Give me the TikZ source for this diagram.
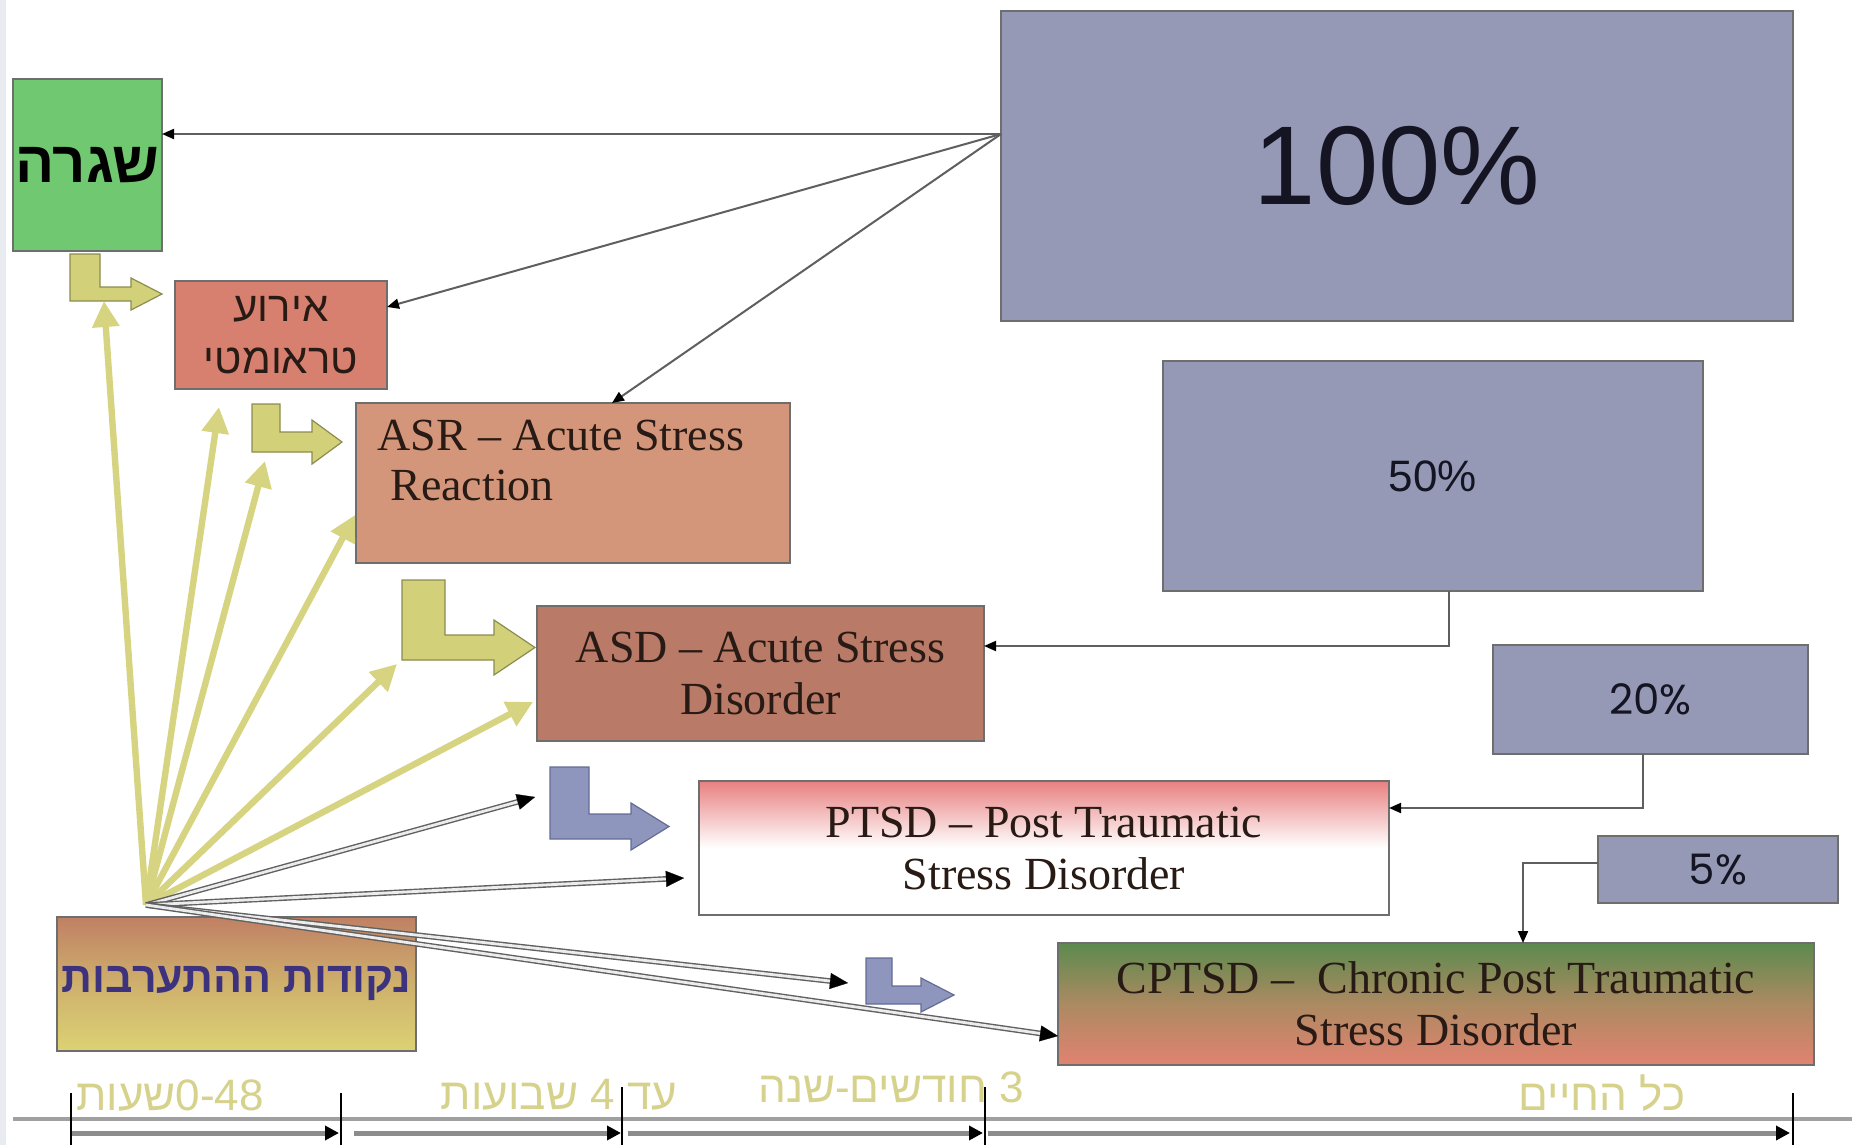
\documentclass[tikz,border=0pt]{standalone}
\usepackage{fontspec}
\setmainfont{Liberation Serif}
\newfontfamily\heb[Script=Hebrew]{Liberation Sans}
\newfontfamily\arialf{Liberation Sans}
\newfontfamily\geof{Poppins}
\TeXXeTstate=1
\usetikzlibrary{arrows.meta,calc}

\definecolor{shigragreen}{RGB}{112,200,112}
\definecolor{eventred}{RGB}{216,128,112}
\definecolor{asrfill}{RGB}{212,150,122}
\definecolor{asdfill}{RGB}{185,122,104}
\definecolor{pinktop}{RGB}{232,128,128}
\definecolor{cgreen}{RGB}{92,138,78}
\definecolor{cmid}{RGB}{172,138,98}
\definecolor{csalmon}{RGB}{226,130,112}
\definecolor{nbrown}{RGB}{192,128,100}
\definecolor{nmid}{RGB}{206,176,108}
\definecolor{nyellow}{RGB}{220,210,116}
\definecolor{pctfill}{RGB}{149,153,181}
\definecolor{boxline}{RGB}{110,110,110}
\definecolor{yarrow}{RGB}{214,212,128}
\definecolor{ybent}{RGB}{210,208,120}
\definecolor{ybentline}{RGB}{140,140,80}
\definecolor{bbent}{RGB}{142,150,190}
\definecolor{bbentline}{RGB}{100,108,150}
\definecolor{conngray}{RGB}{95,95,95}
\definecolor{textdark}{RGB}{40,26,20}
\definecolor{nektext}{RGB}{60,50,125}
\definecolor{timetext}{RGB}{214,210,140}
\definecolor{timegray}{RGB}{160,160,160}
\definecolor{tlarrow}{RGB}{140,140,140}
\definecolor{leftband}{RGB}{232,236,240}
\definecolor{pcttext}{RGB}{20,20,35}

\begin{document}
\begin{tikzpicture}[x=0.5pt,y=-0.5pt,
  box/.style={draw=boxline, line width=0.75pt, inner sep=0pt, outer sep=0pt, anchor=north west},
  serifbig/.style={font=\fontsize{23}{26}\selectfont, text=textdark},
  conn/.style={draw=conngray, line width=1pt, -{Triangle[length=6pt,width=5pt,color=black]}},
  yarr/.style={draw=yarrow, line width=3.2pt, -{Triangle[length=13pt,width=13pt]}},
  dbl/.style={draw=gray!75!black, line width=0.7pt, double=white!85!gray, double distance=1.4pt, shorten >=7pt},
  dbltip/.style={-{Triangle[length=9pt,width=8pt,color=black]}, draw=black, line width=0.1pt},
  ybentstyle/.style={fill=ybent, draw=ybentline, line width=0.6pt},
  bbentstyle/.style={fill=bbent, draw=bbentline, line width=0.6pt},
  tlabel/.style={font=\heb\fontsize{22}{26}\selectfont, text=timetext, inner sep=0pt},
  tlarr/.style={draw=tlarrow, line width=2.5pt, -{Triangle[length=7pt,width=7pt,color=black]}},
  tick/.style={draw=black, line width=0.6pt}
]
\useasboundingbox (0,0) rectangle (1852,1145);
\fill[white] (0,0) rectangle (1852,1145);
\fill[leftband] (0,0) rectangle (6,1145);

% boxes
\node[box, fill=shigragreen, minimum width=74.5pt, minimum height=86pt,
  font=\heb\bfseries\fontsize{29}{34}\selectfont] (shigra) at (13,79) {\beginR שגרה\endR};
\node[box, fill=eventred, minimum width=106pt, minimum height=54pt, align=center,
  font=\heb\fontsize{21}{26}\selectfont, text=textdark] (event) at (175,281)
  {\beginR אירוע\endR\\\beginR טראומטי\endR};
\node[box, fill=asrfill, minimum width=217pt, minimum height=80pt] (asr) at (356,403) {};
\node[serifbig, anchor=west, inner sep=0pt] (asrl1) at (377,435) {ASR – Acute Stress};
\node[serifbig, anchor=west, inner sep=0pt] (asrl2) at (390,485) {Reaction};
\node[box, fill=asdfill, minimum width=223.5pt, minimum height=67.5pt, align=center, serifbig] (asd) at (537,606)
  {ASD – Acute Stress\\Disorder};
\node[box, top color=pinktop, bottom color=white, middle color=white, minimum width=345pt, minimum height=67pt,
  align=center, serifbig] (ptsd) at (699,781) {PTSD – Post Traumatic\\Stress Disorder};
\node[box, top color=cgreen, bottom color=csalmon, middle color=cmid, minimum width=378pt, minimum height=61pt,
  align=center, serifbig] (cptsd) at (1058,943) {CPTSD –\ \ Chronic Post Traumatic\\Stress Disorder};
\node[box, top color=nbrown, bottom color=nyellow, middle color=nmid, minimum width=179.5pt, minimum height=67pt,
  font=\heb\bfseries\fontsize{21.5}{26}\selectfont, text=nektext] (nekudot) at (57,917) {\beginR נקודות ההתערבות\endR};

\node[box, fill=pctfill, minimum width=396pt, minimum height=155pt,
  font=\arialf\fontsize{56}{60}\selectfont, text=pcttext] (p100) at (1001,11) {100\%};
\node[box, fill=pctfill, minimum width=270pt, minimum height=115pt,
  font=\arialf\fontsize{22}{26}\selectfont, text=pcttext] (p50) at (1163,361) {50\%};
\node[box, fill=pctfill, minimum width=157.5pt, minimum height=54.5pt,
  font=\geof\fontsize{21}{25}\selectfont, text=pcttext] (p20) at (1493,645) {20\%};
\node[box, fill=pctfill, minimum width=120pt, minimum height=33.5pt,
  font=\geof\fontsize{21}{25}\selectfont, text=pcttext] (p5) at (1598,836) {5\%};

% bent arrows
\draw[ybentstyle] (70,254) -- (100,254) -- (100,287) -- (131,287) -- (131,278) -- (162,294) -- (131,310) -- (131,301) -- (70,301) -- cycle;
\draw[ybentstyle] (252,404) -- (280,404) -- (280,432) -- (312,432) -- (312,420) -- (342,442) -- (312,464) -- (312,452) -- (252,452) -- cycle;
\draw[ybentstyle] (402,580) -- (445,580) -- (445,635) -- (494,635) -- (494,620) -- (535,647.5) -- (494,675) -- (494,660) -- (402,660) -- cycle;
\draw[bbentstyle] (550,767) -- (589,767) -- (589,814) -- (631,814) -- (631,803) -- (669,826.5) -- (631,850) -- (631,839) -- (550,839) -- cycle;
\draw[bbentstyle] (866,958) -- (892,958) -- (892,986) -- (921,986) -- (921,978) -- (954,995) -- (921,1012) -- (921,1004) -- (866,1004) -- cycle;

% connectors from 100%
\coordinate (O) at ([yshift=16pt]p100.west);
\draw[conn] (O) -- (O -| shigra.east);
\draw[conn] (O) -- ([yshift=14pt]event.east);
\draw[conn] (O) -- ([xshift=19.5pt]asr.north);

% elbow connectors
\draw[conn] ([xshift=8pt]p50.south) |- ([yshift=13.75pt]asd.east);
\draw[conn] ([xshift=-3.75pt]p20.south) |- ([yshift=20pt]ptsd.east);
\draw[conn] ([yshift=3.25pt]p5.west) -| ([xshift=43.5pt]cptsd.north);

% fan of arrows
\coordinate (P) at (146,905);
\coordinate (ya) at (104,301);
\coordinate (yb) at (219,407);
\coordinate (yc) at (265,461);
\coordinate (yd) at (355,515);
\coordinate (ye) at (397,664);
\coordinate (yf) at (533,702);
\foreach \t in {ya,yb,yc,yd,ye,yf} {\draw[yarr] (P) -- (\t);}

\coordinate (ga) at (535,797);
\coordinate (gb) at (684,878);
\coordinate (gc) at (848,983);
\coordinate (gd) at ([yshift=-16pt]cptsd.west);
\foreach \t in {ga,gb,gc,gd} {
  \draw[dbl] (P) -- (\t);
  \draw[dbltip] ($(\t)!9pt!(P)$) -- (\t);
}

% timeline
\draw[timegray, line width=2pt] (13,1119) -- (1852,1119);
\coordinate (t0) at (71,1133);
\coordinate (t1) at (339,1133);
\coordinate (t2) at (354,1133);
\coordinate (t3) at (621,1133);
\coordinate (t4) at (628,1133);
\coordinate (t5) at (983,1133);
\coordinate (t6) at (988,1133);
\coordinate (t7) at (1790,1133);
\draw[tlarr] (t0) -- (t1);
\draw[tlarr] (t2) -- (t3);
\draw[tlarr] (t4) -- (t5);
\draw[tlarr] (t6) -- (t7);
\draw[tick] (71,1093) -- (71,1145);
\draw[tick] (341,1093) -- (341,1145);
\draw[tick] (622,1087) -- (622,1145);
\draw[tick] (985,1087) -- (985,1145);
\draw[tick] (1793,1093) -- (1793,1145);

\node[tlabel] (l1) at (170,1095) {\beginR שעות\endR 0-48};
\node[tlabel] (l2) at (559,1095) {\beginR עד 4 שבועות\endR};
\node[tlabel] (l3) at (891,1087) {\beginR 3 חודשים-שנה\endR};
\node[tlabel] (l4) at (1602,1093) {\beginR כל החיים\endR};
\end{tikzpicture}
\end{document}
